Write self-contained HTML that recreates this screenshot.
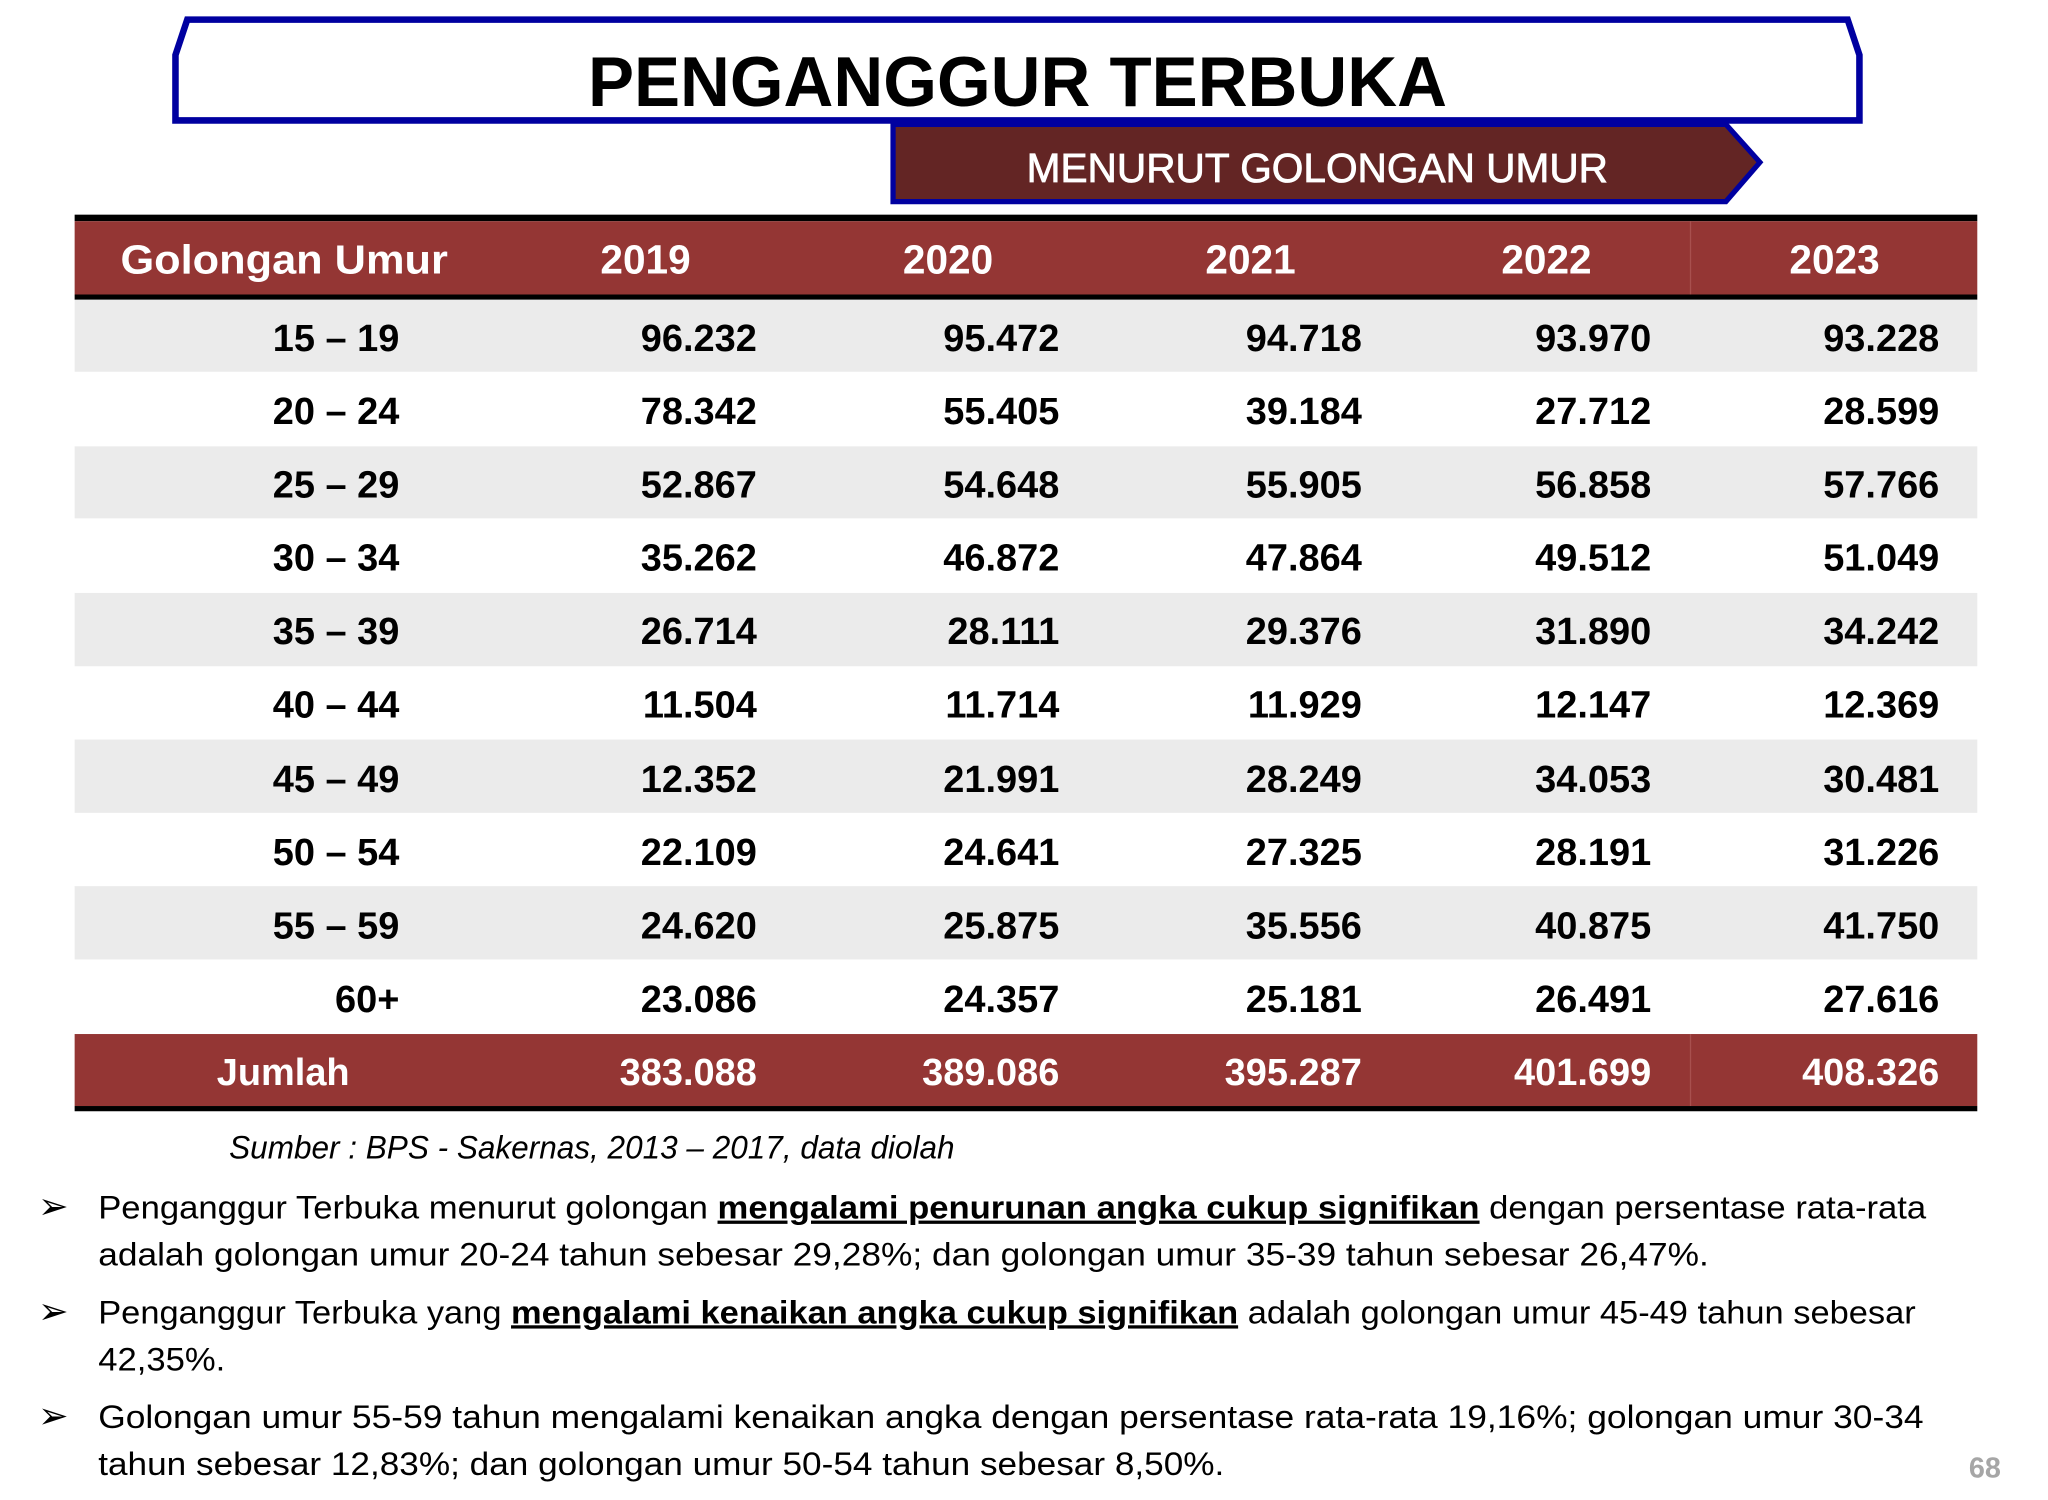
<!DOCTYPE html>
<html><head><meta charset="utf-8"><style>
html,body{margin:0;padding:0;background:#fff;}
svg{display:block;}
text{font-family:"Liberation Sans",sans-serif;}
</style></head><body>
<svg width="2048" height="1500" viewBox="0 0 1564 1146" preserveAspectRatio="none" xmlns="http://www.w3.org/2000/svg">
<rect width="1564" height="1146" fill="#fff"/>
<path d="M143,15 L1411,15 L1420,42 L1420,92 L134,92 L134,42 Z" fill="#fff" stroke="#0000a0" stroke-width="5"/>
<text x="777" y="81" text-anchor="middle" font-size="54" font-weight="bold" textLength="656" lengthAdjust="spacingAndGlyphs">PENGANGGUR TERBUKA</text>
<path d="M682,95 L1318,95 L1344,124 L1318,154 L682,154 Z" fill="#632524" stroke="#0000a0" stroke-width="4"/>
<text x="1006" y="139" text-anchor="middle" font-size="31" fill="#fff" stroke="#fff" stroke-width="0.6" textLength="444" lengthAdjust="spacingAndGlyphs">MENURUT GOLONGAN UMUR</text>
<rect x="57" y="164" width="1453" height="5" fill="#000"/>
<rect x="57" y="169" width="1453" height="56" fill="#943634"/>
<line x1="1291" y1="169" x2="1291" y2="225" stroke="#a8504e" stroke-width="1"/>
<rect x="57" y="225" width="1453" height="4" fill="#000"/>
<g font-size="31" font-weight="bold" fill="#fff">
<text x="92" y="209" textLength="250" lengthAdjust="spacingAndGlyphs">Golongan Umur</text>
<text x="493" y="209" text-anchor="middle">2019</text>
<text x="724" y="209" text-anchor="middle">2020</text>
<text x="955" y="209" text-anchor="middle">2021</text>
<text x="1181" y="209" text-anchor="middle">2022</text>
<text x="1401" y="209" text-anchor="middle">2023</text>
</g>
<g fill="#ebebeb">
<rect x="57" y="229" width="1453" height="55"/>
<rect x="57" y="341" width="1453" height="55"/>
<rect x="57" y="453" width="1453" height="56"/>
<rect x="57" y="565" width="1453" height="56"/>
<rect x="57" y="677" width="1453" height="56"/>
</g>
<g font-size="29" font-weight="bold" fill="#000" text-anchor="end">
<text x="305" y="268">15 – 19</text><text x="578" y="268">96.232</text><text x="809" y="268">95.472</text><text x="1040" y="268">94.718</text><text x="1261" y="268">93.970</text><text x="1481" y="268">93.228</text>
<text x="305" y="324">20 – 24</text><text x="578" y="324">78.342</text><text x="809" y="324">55.405</text><text x="1040" y="324">39.184</text><text x="1261" y="324">27.712</text><text x="1481" y="324">28.599</text>
<text x="305" y="380">25 – 29</text><text x="578" y="380">52.867</text><text x="809" y="380">54.648</text><text x="1040" y="380">55.905</text><text x="1261" y="380">56.858</text><text x="1481" y="380">57.766</text>
<text x="305" y="436">30 – 34</text><text x="578" y="436">35.262</text><text x="809" y="436">46.872</text><text x="1040" y="436">47.864</text><text x="1261" y="436">49.512</text><text x="1481" y="436">51.049</text>
<text x="305" y="492">35 – 39</text><text x="578" y="492">26.714</text><text x="809" y="492">28.111</text><text x="1040" y="492">29.376</text><text x="1261" y="492">31.890</text><text x="1481" y="492">34.242</text>
<text x="305" y="548">40 – 44</text><text x="578" y="548">11.504</text><text x="809" y="548">11.714</text><text x="1040" y="548">11.929</text><text x="1261" y="548">12.147</text><text x="1481" y="548">12.369</text>
<text x="305" y="605">45 – 49</text><text x="578" y="605">12.352</text><text x="809" y="605">21.991</text><text x="1040" y="605">28.249</text><text x="1261" y="605">34.053</text><text x="1481" y="605">30.481</text>
<text x="305" y="661">50 – 54</text><text x="578" y="661">22.109</text><text x="809" y="661">24.641</text><text x="1040" y="661">27.325</text><text x="1261" y="661">28.191</text><text x="1481" y="661">31.226</text>
<text x="305" y="717">55 – 59</text><text x="578" y="717">24.620</text><text x="809" y="717">25.875</text><text x="1040" y="717">35.556</text><text x="1261" y="717">40.875</text><text x="1481" y="717">41.750</text>
<text x="305" y="773">60+</text><text x="578" y="773">23.086</text><text x="809" y="773">24.357</text><text x="1040" y="773">25.181</text><text x="1261" y="773">26.491</text><text x="1481" y="773">27.616</text>
</g>
<rect x="57" y="790" width="1453" height="55" fill="#943634"/>
<line x1="1291" y1="790" x2="1291" y2="845" stroke="#a8504e" stroke-width="1"/>
<rect x="57" y="845" width="1453" height="4" fill="#000"/>
<g font-size="29" font-weight="bold" fill="#fff" text-anchor="end">
<text x="267" y="829">Jumlah</text><text x="578" y="829">383.088</text><text x="809" y="829">389.086</text><text x="1040" y="829">395.287</text><text x="1261" y="829">401.699</text><text x="1481" y="829">408.326</text>
</g>
<text x="175" y="885" font-size="25" font-style="italic" textLength="554" lengthAdjust="spacingAndGlyphs">Sumber : BPS - Sakernas, 2013 – 2017, data diolah</text>
<g font-size="25" fill="#000">
<text x="29" y="931" font-family="DejaVu Sans,sans-serif" font-size="28">➢</text>
<text x="29" y="1011" font-family="DejaVu Sans,sans-serif" font-size="28">➢</text>
<text x="29" y="1091" font-family="DejaVu Sans,sans-serif" font-size="28">➢</text>
<text x="75" y="931" textLength="1396" lengthAdjust="spacingAndGlyphs">Penganggur Terbuka menurut golongan <tspan font-weight="bold" text-decoration="underline">mengalami penurunan angka cukup signifikan</tspan> dengan persentase rata-rata</text>
<text x="75" y="967" textLength="1230" lengthAdjust="spacingAndGlyphs">adalah golongan umur 20-24 tahun sebesar 29,28%; dan golongan umur 35-39 tahun sebesar 26,47%.</text>
<text x="75" y="1011" textLength="1388" lengthAdjust="spacingAndGlyphs">Penganggur Terbuka yang <tspan font-weight="bold" text-decoration="underline">mengalami kenaikan angka cukup signifikan</tspan> adalah golongan umur 45-49 tahun sebesar</text>
<text x="75" y="1047" textLength="97" lengthAdjust="spacingAndGlyphs">42,35%.</text>
<text x="75" y="1091" textLength="1394" lengthAdjust="spacingAndGlyphs">Golongan umur 55-59 tahun mengalami kenaikan angka dengan persentase rata-rata 19,16%; golongan umur 30-34</text>
<text x="75" y="1127" textLength="860" lengthAdjust="spacingAndGlyphs">tahun sebesar 12,83%; dan golongan umur 50-54 tahun sebesar 8,50%.</text>
</g>
<text x="1528" y="1129" font-size="22" font-weight="bold" fill="#a6a6a6" text-anchor="end">68</text>
</svg>
</body></html>
